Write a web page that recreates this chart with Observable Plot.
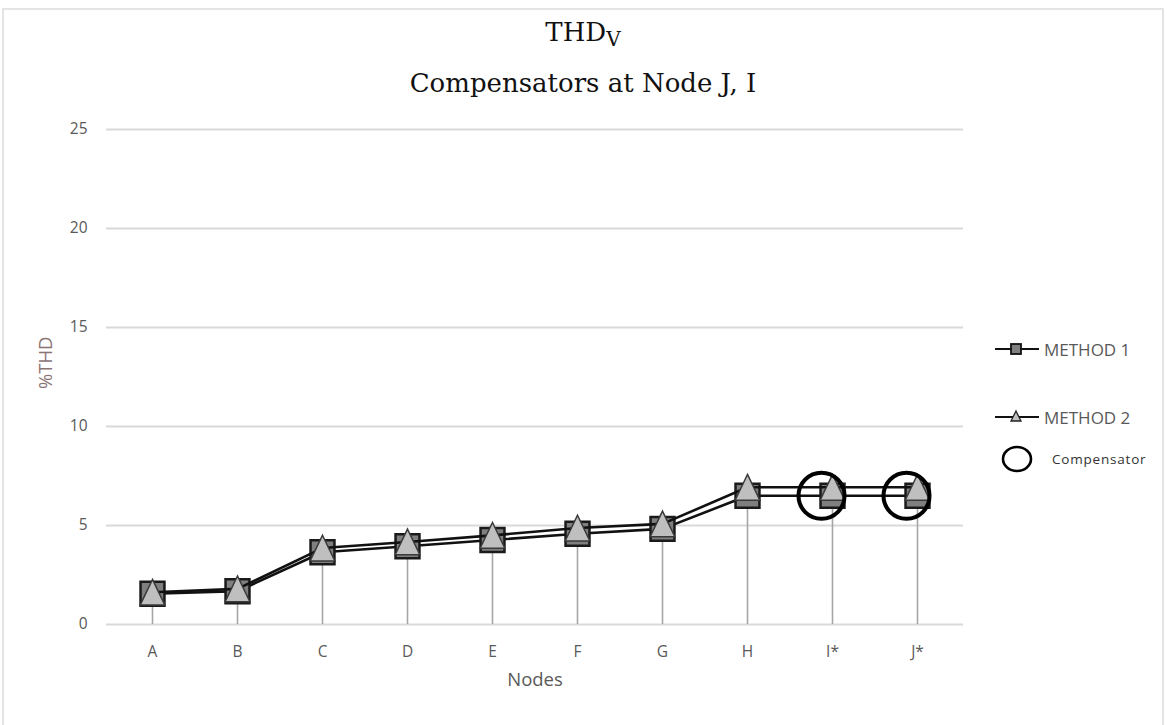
<!DOCTYPE html>
<html>
<head>
<meta charset="utf-8">
<script src="https://cdn.jsdelivr.net/npm/d3@7"></script>
<script src="https://cdn.jsdelivr.net/npm/@observablehq/plot@0.6"></script>
<style>
  body { margin: 0; background: #fff; }
  #chart { position: relative; width: 1167px; height: 725px; background: #fff; overflow: hidden; }
  #frame { position: absolute; left: 2px; top: 8px; width: 1158px; height: 740px; border: 2px solid #e4e4e4; border-bottom: none; }
  .title { position: absolute; left: 0; width: 1166px; text-align: center; font-family: "DejaVu Serif", serif; color: #111; line-height: 1.2; }
  #t1 { top: 17px; font-size: 26px; }
  #t1 sub { font-size: 20px; vertical-align: -5px; }
  #t2 { top: 68px; font-size: 26px; }
  #plot { position: absolute; left: 0; top: 110px; }
  .leg { position: absolute; font-family: "Open Sans", sans-serif; color: #595959; display: flex; align-items: center; }
  .leg svg { display: block; }
</style>
</head>
<body>
<div id="chart">
  <div id="frame"></div>
  <div class="title" id="t1">THD<sub>V</sub></div>
  <div class="title" id="t2">Compensators at Node J, I</div>
  <div id="plot"></div>
  <div id="legend"></div>
</div>
<script>
const nodes = ["A", "B", "C", "D", "E", "F", "G", "H", "I*", "J*"];
const method1 = [1.55, 1.68, 3.65, 3.95, 4.27, 4.58, 4.83, 6.5, 6.5, 6.5];
const method2 = [1.63, 1.8, 3.86, 4.17, 4.5, 4.87, 5.08, 6.93, 6.93, 6.93];
const yTicks = [0, 5, 10, 15, 20, 25];
const compensatorNodes = ["I*", "J*"];
const seriesNames = ["METHOD 1", "METHOD 2", "Compensator"];

const rows1 = nodes.map((n, i) => ({node: n, value: method1[i]}));
const rows2 = nodes.map((n, i) => ({node: n, value: method2[i]}));
const drops = nodes.map((n, i) => ({node: n, top: Math.max(method1[i], method2[i])}));
const comps = rows1.filter(d => compensatorNodes.includes(d.node));

const triangleSym = {
  draw(ctx, size) {
    const s = Math.sqrt(size);
    const hw = s * 0.48, hh = s * 0.5;
    ctx.moveTo(0, -hh);
    ctx.lineTo(hw, hh);
    ctx.lineTo(-hw, hh);
    ctx.closePath();
  }
};

const chart = Plot.plot({
  width: 1167,
  height: 595,
  marginLeft: 106,
  marginRight: 204,
  marginTop: 19,
  marginBottom: 81,
  style: {fontFamily: "Open Sans, sans-serif", fontSize: "15.5px", color: "#595959", background: "transparent", overflow: "visible"},
  x: {type: "point", domain: nodes, padding: 0.5},
  y: {domain: [0, 25]},
  marks: [
    Plot.gridY(yTicks, {stroke: "#d9d9d9", strokeWidth: 1.8, strokeOpacity: 1}),
    Plot.axisY(yTicks, {tickSize: 0, tickPadding: 19, label: null}),
    Plot.axisX({tickSize: 0, tickPadding: 21, label: null}),
    Plot.text(["Nodes"], {frameAnchor: "bottom", dy: 61, fontSize: 18.5, fill: "#595959"}),
    Plot.text(["%THD"], {frameAnchor: "left", dx: -60, dy: 12, rotate: -90, fontSize: 18.5, fill: "#8a7474"}),
    Plot.ruleX(drops, {x: "node", y1: 0, y2: "top", stroke: "#a6a6a6", strokeWidth: 1.6}),
    Plot.line(rows1, {x: "node", y: "value", stroke: "#111", strokeWidth: 2.6}),
    Plot.dot(rows1, {x: "node", y: "value", symbol: "square", r: 13.5, fill: "#7f7f7f", stroke: "#1a1a1a", strokeWidth: 2.5}),
    Plot.line(rows2, {x: "node", y: "value", stroke: "#111", strokeWidth: 2.6}),
    Plot.dot(rows2, {x: "node", y: "value", symbol: triangleSym, r: 14.5, fill: "#bfbfbf", stroke: "#3a3a3a", strokeWidth: 1.5}),
    Plot.dot(comps, {x: "node", y: "value", r: 23, dx: -11, fill: "none", stroke: "#000", strokeWidth: 4})
  ]
});
document.getElementById("plot").appendChild(chart);

// Legend
const legend = document.getElementById("legend");
const legendItems = [
  {name: seriesNames[0], top: 337, kind: "square"},
  {name: seriesNames[1], top: 405, kind: "triangle"},
  {name: seriesNames[2], top: 443, kind: "circle"}
];
for (const it of legendItems) {
  const div = document.createElement("div");
  div.className = "leg";
  div.style.left = "994px";
  div.style.top = it.top + "px";
  let svg;
  if (it.kind === "square") {
    svg = `<svg width="50" height="24"><line x1="1" x2="45" y1="12" y2="12" stroke="#111" stroke-width="2.2"/><rect x="17" y="7" width="10" height="10" fill="#7f7f7f" stroke="#111" stroke-width="1.8"/></svg>`;
  } else if (it.kind === "triangle") {
    svg = `<svg width="50" height="24"><line x1="1" x2="45" y1="12" y2="12" stroke="#111" stroke-width="2.2"/><path d="M22,6 L27,16 L17,16 Z" fill="#bfbfbf" stroke="#222" stroke-width="1.3"/></svg>`;
  } else {
    svg = `<svg width="56" height="32"><ellipse cx="23" cy="16" rx="14" ry="12" fill="none" stroke="#000" stroke-width="2.6"/></svg>`;
  }
  const label = it.kind === "circle"
    ? `<span style="font-size:13.5px;color:#333;letter-spacing:0.8px;margin-left:2px">${it.name}</span>`
    : `<span style="font-size:17px">${it.name}</span>`;
  div.innerHTML = svg + label;
  legend.appendChild(div);
}
</script>
</body>
</html>
